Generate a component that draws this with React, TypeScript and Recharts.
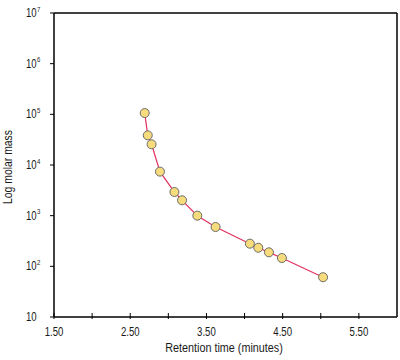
import { LineChart, Line, XAxis, YAxis, ReferenceLine } from "recharts";

const retentionTimes = [2.69, 2.73, 2.78, 2.89, 3.08, 3.18, 3.38, 3.62, 4.07, 4.18, 4.32, 4.49, 5.03];
const molarMasses = [106000, 38500, 25600, 7400, 2930, 2010, 1000, 598, 280, 233, 189, 146, 61];

const xTicks = [1.5, 2, 2.5, 3, 3.5, 4, 4.5, 5, 5.5];
const xLabelled = ["1.50", "2.50", "3.50", "4.50", "5.50"];
const yTicks = [10, 100, 1000, 10000, 100000, 1000000, 10000000];

const data = retentionTimes.map((t, i) => ({ t, m: molarMasses[i] }));

const FONT = "'Liberation Sans', Arial, sans-serif";
const INK = "#1a1a1a";
const NARROW = 0.8; // squeeze Arial to look like the condensed face of the original

// axis line sits 8px above the tick's y prop
function XTick(props: any) {
  const { x, y, payload } = props;
  const axisY = y - 8;
  const label = payload.value.toFixed(2);
  const show = xLabelled.includes(label);
  return (
    <g>
      <line x1={x} x2={x} y1={axisY - 4} y2={axisY + 2} stroke="#000" strokeWidth={1} />
      {show && (
        <text
          transform={`translate(${x},${axisY + 19}) scale(${NARROW},1)`}
          textAnchor="middle"
          fontSize={12}
          fill={INK}
          fontFamily={FONT}
        >
          {label}
        </text>
      )}
    </g>
  );
}

function YTick(props: any) {
  const { y, payload } = props;
  const exp = Math.round(Math.log10(payload.value));
  return (
    <g>
      <line x1={50} x2={54} y1={y} y2={y} stroke="#000" strokeWidth={1} />
      <text
        transform={`translate(26,${y + 4}) scale(${NARROW},1)`}
        textAnchor="start"
        fontSize={12}
        fill={INK}
        fontFamily={FONT}
      >
        10
      </text>
      {exp > 1 && (
        <text
          transform={`translate(37,${y - 1.5}) scale(${NARROW},1)`}
          textAnchor="start"
          fontSize={7.5}
          fill={INK}
          fontFamily={FONT}
        >
          {exp}
        </text>
      )}
    </g>
  );
}

function XTitle() {
  return (
    <text
      transform={`translate(224,352) scale(${NARROW},1)`}
      textAnchor="middle"
      fontSize={13.5}
      fill={INK}
      fontFamily={FONT}
    >
      Retention time (minutes)
    </text>
  );
}

function YTitle() {
  return (
    <text
      transform={`translate(12,167) rotate(-90) scale(${NARROW},1)`}
      textAnchor="middle"
      fontSize={13}
      fill={INK}
      fontFamily={FONT}
    >
      Log molar mass
    </text>
  );
}

export default function App() {
  return (
    <div style={{ position: "absolute", left: 0, top: 0, background: "#fff" }}>
      <LineChart width={400} height={360} data={data} margin={{ top: 13, right: 3, left: 0, bottom: 0 }}>
        <XAxis
          dataKey="t"
          type="number"
          domain={[1.5, 6]}
          ticks={xTicks}
          allowDataOverflow
          height={43}
          tick={<XTick />}
          tickLine={false}
          axisLine={{ stroke: "#000", strokeWidth: 1.5 }}
          label={<XTitle />}
        />
        <YAxis
          dataKey="m"
          scale="log"
          domain={[10, 10000000]}
          ticks={yTicks}
          allowDataOverflow
          width={54}
          tick={<YTick />}
          tickLine={false}
          axisLine={{ stroke: "#000", strokeWidth: 1.5 }}
          label={<YTitle />}
        />
        <ReferenceLine y={10000000} stroke="#000" strokeWidth={1.5} />
        <ReferenceLine x={6} stroke="#000" strokeWidth={1.5} />
        <Line
          dataKey="m"
          stroke="#e3315f"
          strokeWidth={1.2}
          isAnimationActive={false}
          dot={{ r: 4.5, fill: "#f7dc7e", stroke: "#6b6b6b", strokeWidth: 1 }}
        />
      </LineChart>
    </div>
  );
}
